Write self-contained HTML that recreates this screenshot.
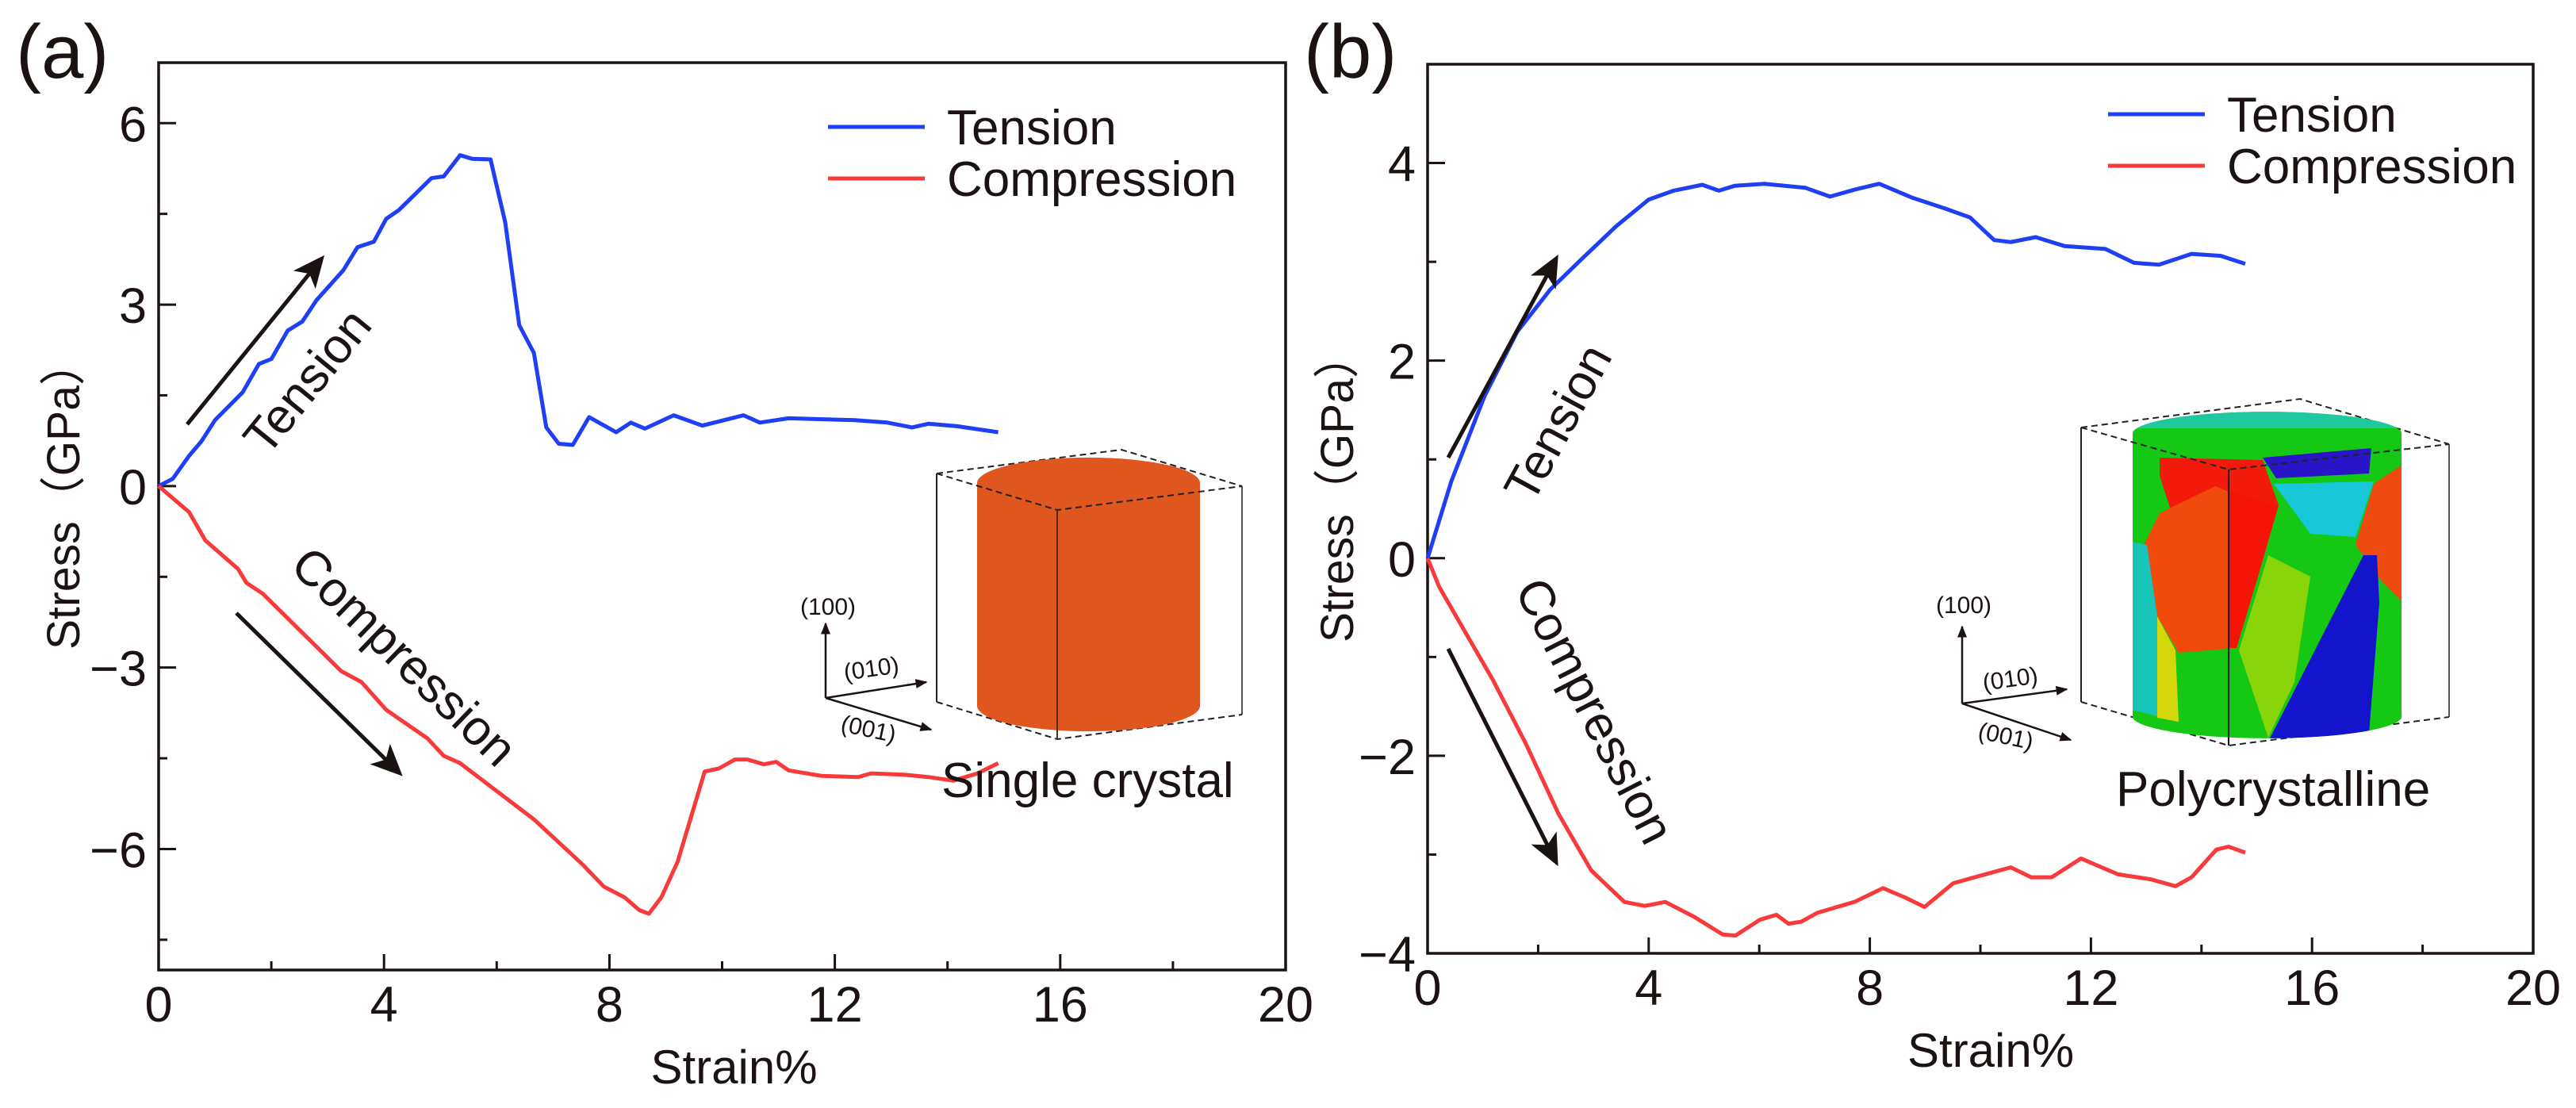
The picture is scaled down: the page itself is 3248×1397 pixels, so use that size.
<!DOCTYPE html>
<html><head><meta charset="utf-8">
<style>
html,body{margin:0;padding:0;background:#fff;}
svg{display:block;}
text{font-family:"Liberation Sans","Noto Sans CJK SC",sans-serif;fill:#1a1311;}
</style></head>
<body>
<svg id="fig" width="3248" height="1397" viewBox="0 0 3248 1397" xmlns="http://www.w3.org/2000/svg">
<defs>
<marker id="ah" viewBox="0 0 10 10" refX="8" refY="5" markerWidth="8" markerHeight="8" orient="auto" markerUnits="strokeWidth">
<path d="M0,0.5 L10,5 L0,9.5 L2.5,5 z" fill="#1a1311"/></marker>
<marker id="sa" viewBox="0 0 10 10" refX="9" refY="5" markerWidth="6" markerHeight="6" orient="auto" markerUnits="strokeWidth">
<path d="M0,1 L10,5 L0,9 z" fill="#1a1311"/></marker>
<clipPath id="cylclip"><path d="M2689,545 A170,28 0 0 1 3028,545 L3028,905 A170,28 0 0 1 2689,905 Z"/></clipPath>
</defs>
<g id="pa"></g>
<g id="pb"></g>

<!-- panel a decorations -->
<text x="20" y="98" font-size="96">(a)</text>
<line x1="236" y1="535" x2="404" y2="328" stroke="#1a1311" stroke-width="5" marker-end="url(#ah)"/>
<text x="0" y="0" font-size="62" text-anchor="middle" transform="translate(404,494) rotate(-51)">Tension</text>
<line x1="298" y1="773" x2="502" y2="973" stroke="#1a1311" stroke-width="5" marker-end="url(#ah)"/>
<text x="0" y="0" font-size="62" text-anchor="middle" transform="translate(495,843) rotate(44)">Compression</text>

<g>
<line x1="1181" y1="597" x2="1181" y2="885" stroke="#222" stroke-width="2"/>
<line x1="1566" y1="613" x2="1566" y2="901" stroke="#555" stroke-width="2"/>
<path d="M1181,597 L1414,567 L1566,613" fill="none" stroke="#222" stroke-width="2" stroke-dasharray="8,5"/>
<path d="M1181,885 L1333,932 L1566,901" fill="none" stroke="#222" stroke-width="2" stroke-dasharray="8,5"/>
<path d="M1232,609 A140,32 0 0 1 1513,609 L1513,890 A140,32 0 0 1 1232,890 Z" fill="#e0561f"/>
<path d="M1181,597 L1333,643 L1566,613" fill="none" stroke="#222" stroke-width="2" stroke-dasharray="8,5"/>
<line x1="1333" y1="643" x2="1333" y2="932" stroke="#5a2a10" stroke-width="2"/>
<g stroke="#1a1311" stroke-width="2.5" fill="none">
<line x1="1041" y1="880" x2="1041" y2="786" marker-end="url(#sa)"/>
<line x1="1041" y1="880" x2="1168" y2="860" marker-end="url(#sa)"/>
<line x1="1041" y1="880" x2="1174" y2="920" marker-end="url(#sa)"/>
</g>
<text x="1044" y="775" font-size="30" text-anchor="middle">(100)</text>
<text x="0" y="0" font-size="30" text-anchor="middle" transform="translate(1100,853) rotate(-8)">(010)</text>
<text x="0" y="0" font-size="30" text-anchor="middle" transform="translate(1093,929) rotate(12)">(001)</text>
</g>
<text x="1187" y="1005" font-size="62">Single crystal</text>

<!-- panel b decorations -->
<text x="1644" y="98" font-size="96">(b)</text>
<line x1="1826" y1="577" x2="1961" y2="328" stroke="#1a1311" stroke-width="5" marker-end="url(#ah)"/>
<text x="0" y="0" font-size="62" text-anchor="middle" transform="translate(1983,543) rotate(-61.5)">Tension</text>
<line x1="1826" y1="818" x2="1961" y2="1085" stroke="#1a1311" stroke-width="5" marker-end="url(#ah)"/>
<text x="0" y="0" font-size="62" text-anchor="middle" transform="translate(1992,906) rotate(63)">Compression</text>

<g>
<line x1="2624" y1="539" x2="2624" y2="885" stroke="#222" stroke-width="2"/>
<line x1="3088" y1="560" x2="3088" y2="904" stroke="#555" stroke-width="2"/>
<path d="M2624,539 L2900,503 L3088,560" fill="none" stroke="#222" stroke-width="2" stroke-dasharray="8,5"/>
<path d="M2624,885 L2810,940 L3088,904" fill="none" stroke="#222" stroke-width="2" stroke-dasharray="8,5"/>
<g clip-path="url(#cylclip)">
<rect x="2680" y="500" width="360" height="450" fill="#14c814"/>
<polygon points="2723,577 2853,580 2873,637 2793,613 2737,643 2723,600" fill="#f21a0a"/>
<polygon points="2703,687 2723,647 2793,613 2873,637 2847,727 2820,817 2747,823 2720,777" fill="#f04a0c"/>
<polygon points="2793,613 2873,637 2847,727 2820,817 2810,817 2810,620" fill="#f51508"/>
<polygon points="2853,577 2990,565 2987,597 2870,603" fill="#2a14c8"/>
<polygon points="2867,610 2993,607 2970,677 2913,673" fill="#16c8d8"/>
<polygon points="2993,610 3030,585 3030,760 3003,733 2970,687" fill="#ef4a10"/>
<polygon points="2980,700 2997,700 3000,760 2987,925 2860,935" fill="#1414cc"/>
<polygon points="2823,820 2860,700 2913,727 2893,860 2860,930" fill="#8ad40a"/>
<polygon points="2688,683 2707,687 2720,777 2720,903 2688,895" fill="#18c4b8"/>
<polygon points="2720,777 2743,820 2747,910 2720,905" fill="#d4d80a"/>
<polygon points="2690,505 3030,505 3030,540 2690,540" fill="#20c8a0"/>
</g>
<path d="M2624,539 L2810,592 L3088,560" fill="none" stroke="#222" stroke-width="2" stroke-dasharray="8,5"/>
<line x1="2810" y1="592" x2="2810" y2="940" stroke="#111" stroke-width="2"/>
<g stroke="#1a1311" stroke-width="2.5" fill="none">
<line x1="2474" y1="887" x2="2474" y2="790" marker-end="url(#sa)"/>
<line x1="2474" y1="887" x2="2606" y2="869" marker-end="url(#sa)"/>
<line x1="2474" y1="887" x2="2611" y2="933" marker-end="url(#sa)"/>
</g>
<text x="2476" y="773" font-size="30" text-anchor="middle">(100)</text>
<text x="0" y="0" font-size="30" text-anchor="middle" transform="translate(2536,866) rotate(-8)">(010)</text>
<text x="0" y="0" font-size="30" text-anchor="middle" transform="translate(2527,938) rotate(12)">(001)</text>
</g>
<text x="2668" y="1016" font-size="62">Polycrystalline</text>
</svg>

<script>
// ---- Panel (a) data ----
const aTensionStrain = [0,0.25,0.54,0.76,1.0,1.49,1.78,2.0,2.29,2.55,2.8,3.28,3.53,3.82,4.04,4.26,4.84,5.06,5.35,5.57,5.89,6.15,6.4,6.66,6.88,7.1,7.35,7.64,8.12,8.38,8.63,9.14,9.65,10.38,10.67,11.18,12.35,12.93,13.37,13.66,14.17,14.9];
const aTensionStress = [0,0.12,0.5,0.74,1.09,1.55,2.02,2.1,2.57,2.72,3.07,3.57,3.95,4.04,4.42,4.56,5.09,5.12,5.47,5.41,5.4,4.36,2.66,2.2,0.97,0.7,0.68,1.14,0.89,1.05,0.95,1.17,1.0,1.17,1.05,1.12,1.09,1.05,0.97,1.03,0.99,0.89];
const aCompStrain = [0,0.54,0.83,1.41,1.56,1.85,2.73,3.24,3.6,4.04,4.77,5.06,5.35,6.66,7.54,7.9,8.27,8.53,8.7,8.92,9.21,9.69,9.94,10.23,10.45,10.74,10.96,11.18,11.76,12.42,12.64,13.22,13.66,14.1,14.53,14.9];
const aCompStress = [0,-0.43,-0.9,-1.37,-1.6,-1.78,-2.59,-3.06,-3.24,-3.7,-4.17,-4.46,-4.58,-5.51,-6.27,-6.62,-6.8,-7.01,-7.07,-6.8,-6.21,-4.72,-4.67,-4.52,-4.52,-4.6,-4.56,-4.7,-4.79,-4.81,-4.75,-4.77,-4.81,-4.87,-4.75,-4.58];
const aXTicks = [0,4,8,12,16,20];
const aXTickLabels = ["0","4","8","12","16","20"];
const aYTicks = [-6,-3,0,3,6];
const aYTickLabels = ["\u22126","\u22123","0","3","6"];

// ---- Panel (b) data ----
const bTensionStrain = [0,0.43,1.03,1.62,2.22,2.81,3.41,4.0,4.45,4.97,5.27,5.56,6.09,6.83,7.28,7.72,8.17,8.76,9.36,9.81,10.25,10.55,11.0,11.52,12.26,12.78,13.23,13.82,14.35,14.79];
const bTensionStress = [0,0.78,1.64,2.29,2.72,3.04,3.36,3.63,3.72,3.78,3.72,3.77,3.79,3.75,3.66,3.73,3.79,3.65,3.54,3.45,3.22,3.2,3.25,3.16,3.13,2.99,2.97,3.08,3.06,2.98];
const bCompStrain = [0,0.21,0.58,1.18,1.77,2.37,2.96,3.56,3.93,4.3,4.82,5.34,5.57,6.01,6.31,6.53,6.76,7.05,7.72,8.24,8.62,8.99,9.51,9.96,10.55,10.92,11.29,11.82,12.49,13.08,13.53,13.82,14.27,14.49,14.79];
const bCompStress = [0,-0.29,-0.65,-1.23,-1.87,-2.59,-3.16,-3.48,-3.52,-3.48,-3.63,-3.81,-3.82,-3.66,-3.61,-3.7,-3.68,-3.59,-3.48,-3.34,-3.43,-3.53,-3.29,-3.22,-3.13,-3.23,-3.23,-3.04,-3.2,-3.25,-3.32,-3.23,-2.95,-2.92,-2.98];
const bXTicks = [0,4,8,12,16,20];
const bXTickLabels = ["0","4","8","12","16","20"];
const bYTicks = [-4,-2,0,2,4];
const bYTickLabels = ["\u22124","\u22122","0","2","4"];

const NS = "http://www.w3.org/2000/svg";
function mk(parent, tag, attrs, txt){
  const e = document.createElementNS(NS, tag);
  for (const k in attrs) e.setAttribute(k, attrs[k]);
  if (txt !== undefined) e.textContent = txt;
  parent.appendChild(e);
  return e;
}

function drawPanel(g, cfg){
  const sx = v => cfg.L + (v - cfg.xmin) / (cfg.xmax - cfg.xmin) * (cfg.R - cfg.L);
  const sy = v => cfg.B - (v - cfg.ymin) / (cfg.ymax - cfg.ymin) * (cfg.B - cfg.T);
  cfg.xTicks.forEach((v, i) => {
    const t = mk(g, "line", {x1: sx(v), x2: sx(v), y1: cfg.B, y2: cfg.B - 20, stroke: "#1a1311", "stroke-width": 3});
    
    
    const lb = mk(g, "text", {x: sx(v), y: cfg.B + 65, "font-size": 63, "text-anchor": "middle"}, cfg.xLabels[i]);
    
    
    if (i < cfg.xTicks.length - 1) {
      const m = (v + cfg.xTicks[i + 1]) / 2;
      const mt = mk(g, "line", {x1: sx(m), x2: sx(m), y1: cfg.B, y2: cfg.B - 11, stroke: "#1a1311", "stroke-width": 3});
      
      
    }
  });
  cfg.yTicks.forEach((v, i) => {
    const t = mk(g, "line", {x1: cfg.L, x2: cfg.L + 22, y1: sy(v), y2: sy(v), stroke: "#1a1311", "stroke-width": 3});
    
    
    const lb = mk(g, "text", {x: cfg.L - 15, y: sy(v) + 23, "font-size": 63, "text-anchor": "end"}, cfg.yLabels[i]);
    
    
  });
  cfg.yMinor.forEach(v => {
    const mt = mk(g, "line", {x1: cfg.L, x2: cfg.L + 11, y1: sy(v), y2: sy(v), stroke: "#1a1311", "stroke-width": 3});
    
    
  });
  const fr = mk(g, "rect", {x: cfg.L, y: cfg.T, width: cfg.R - cfg.L, height: cfg.B - cfg.T, fill: "none", stroke: "#1a1311", "stroke-width": 3.5});
  
  
  const series = [
    {xs: cfg.tx, ys: cfg.ty, c: "#1f3ff5", n: "tension-line"},
    {xs: cfg.cx, ys: cfg.cy, c: "#f83a3a", n: "compression-line"}
  ];
  series.forEach(s => {
    const d = s.xs.map((x, i) => (i ? "L" : "M") + sx(x).toFixed(1) + "," + sy(s.ys[i]).toFixed(1)).join(" ");
    const p = mk(g, "path", {d: d, fill: "none", stroke: s.c, "stroke-width": 5, "stroke-linejoin": "round"});
    
    
  });
  const xt = mk(g, "text", {x: (cfg.L + cfg.R) / 2 + cfg.xtOff, y: cfg.B + 143, "font-size": 60, "text-anchor": "middle"}, "Strain%");
  
  
  const yt = mk(g, "text", {x: 0, y: 0, "font-size": 58, "text-anchor": "middle", transform: "translate(" + cfg.ytX + "," + cfg.ytY + ") rotate(-90)", textLength: 390, lengthAdjust: "spacingAndGlyphs"}, "Stress\uFF08GPa\uFF09");
  
  
  const lg = mk(g, "g", {});
  
  
  [["Tension", "#1f3ff5"], ["Compression", "#f83a3a"]].forEach((e, i) => {
    const y = cfg.legY + i * 65;
    const ln = mk(lg, "line", {x1: cfg.legX, x2: cfg.legX + 122, y1: y, y2: y, stroke: e[1], "stroke-width": 5});
    
    
    const tx = mk(lg, "text", {x: cfg.legX + 150, y: y + 22, "font-size": 62}, e[0]);
    
    
  });
}

drawPanel(document.getElementById("pa"), {
  L: 200, R: 1621, T: 79, B: 1223, xmin: 0, xmax: 20, ymin: -8, ymax: 7,
  xTicks: aXTicks, xLabels: aXTickLabels, yTicks: aYTicks, yLabels: aYTickLabels,
  yMinor: [-7.5, -4.5, -1.5, 1.5, 4.5],
  tx: aTensionStrain, ty: aTensionStress, cx: aCompStrain, cy: aCompStress,
  xtOff: 15, ytX: 100, ytY: 624, legX: 1044, legY: 160
});
drawPanel(document.getElementById("pb"), {
  L: 1800, R: 3194, T: 81, B: 1202, xmin: 0, xmax: 20, ymin: -4, ymax: 5,
  xTicks: bXTicks, xLabels: bXTickLabels, yTicks: bYTicks, yLabels: bYTickLabels,
  yMinor: [-3, -1, 1, 3],
  tx: bTensionStrain, ty: bTensionStress, cx: bCompStrain, cy: bCompStress,
  xtOff: 13, ytX: 1706, ytY: 615, legX: 2658, legY: 144
});
</script>
</body></html>
